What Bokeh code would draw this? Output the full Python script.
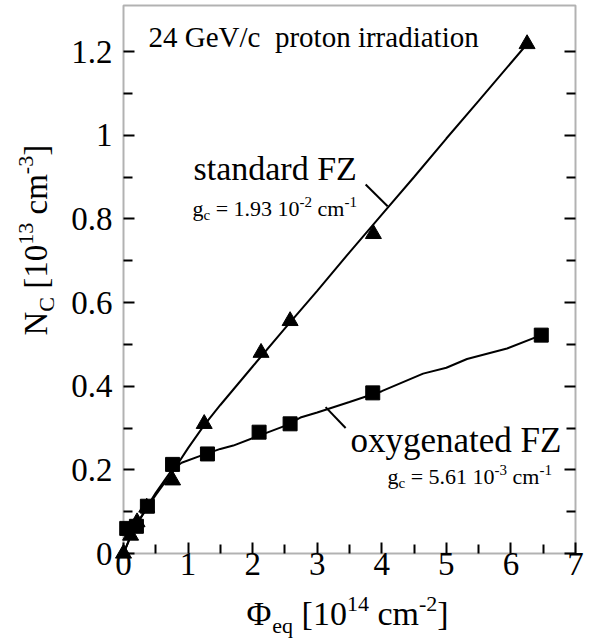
from math import pi
from bokeh.plotting import figure
from bokeh.models import Range1d, LinearAxis, FixedTicker, CustomJSTickFormatter, Label, BoxAnnotation
from bokeh.embed import file_html
from bokeh.resources import INLINE

# ---------------- data ----------------
std_x = [0.0, 0.11, 0.21, 0.36, 0.76, 1.25, 2.13, 2.58, 3.87, 6.25]
std_y = [0.0, 0.043, 0.075, 0.11, 0.175, 0.31, 0.48, 0.556, 0.764, 1.218]

oxy_x = [0.05, 0.2, 0.37, 0.76, 1.3, 2.1, 2.58, 3.86, 6.47]
oxy_y = [0.06, 0.065, 0.113, 0.213, 0.238, 0.29, 0.31, 0.384, 0.522]

std_fit_x = [0, 0.1, 0.2, 0.35, 0.5, 0.75, 1.0, 1.25, 1.5, 2.0, 2.5, 3.0, 3.5, 4.0, 4.5, 5.0, 5.5, 6.25]
std_fit_y = [0, 0.037, 0.068, 0.105, 0.14, 0.193, 0.252, 0.307, 0.355, 0.447, 0.538, 0.628, 0.72, 0.81, 0.9, 0.992, 1.082, 1.218]

oxy_fit_x = [0, 0.1, 0.2, 0.35, 0.5, 0.75, 0.9, 1.2, 1.5, 1.7, 2.07, 2.5, 2.74, 3.0, 3.5, 4.0, 4.64, 5.0, 5.32, 5.94, 6.47]
oxy_fit_y = [0, 0.038, 0.068, 0.108, 0.145, 0.2, 0.217, 0.234, 0.25, 0.258, 0.28, 0.305, 0.325, 0.337, 0.362, 0.388, 0.43, 0.444, 0.465, 0.49, 0.522]

std_leader_x = [3.75, 4.09]
std_leader_y = [0.882, 0.83]
oxy_leader_x = [3.13, 3.44]
oxy_leader_y = [0.350, 0.300]

x_ticks = [0, 1, 2, 3, 4, 5, 6, 7]
x_tick_labels = ["0", "1", "2", "3", "4", "5", "6", "7"]
x_minor = [0.5, 1.5, 2.5, 3.5, 4.5, 5.5, 6.5]
y_ticks = [0.0, 0.2, 0.4, 0.6, 0.8, 1.0, 1.2]
y_tick_labels = ["0", "0.2", "0.4", "0.6", "0.8", "1", "1.2"]
y_minor = [0.1, 0.3, 0.5, 0.7, 0.9, 1.1]

X_MAX = 7.0
Y_MAX = 1.31

# ---------------- layout geometry ----------------
# The plotting box [0, X_MAX] x [0, Y_MAX] sits at these pixel edges; the frame
# covers the whole canvas so that the axis titles (built from pieces) are not clipped.
W, H = 589, 639
FL, FR, FT, FB = 123, 575, 5, 553
FONT = "Liberation Serif"

sx_per = (FR - FL) / X_MAX
sy_per = (FB - FT) / Y_MAX
x0, x1 = -FL / sx_per, X_MAX + (W - FR) / sx_per
y0, y1 = -(H - FB) / sy_per, Y_MAX + FT / sy_per

p = figure(width=W, height=H, x_range=Range1d(x0, x1), y_range=Range1d(y0, y1),
           output_backend="svg", toolbar_location=None,
           min_border_left=0, min_border_right=0, min_border_top=0, min_border_bottom=0)
p.background_fill_color = "white"
p.border_fill_color = "white"
p.outline_line_color = None
p.xgrid.visible = False
p.ygrid.visible = False


def fmt(tvals, tlabels):
    return CustomJSTickFormatter(args=dict(tv=tvals, tl=tlabels),
                                 code="const i = tv.findIndex(t => Math.abs(t - tick) < 1e-9); return i >= 0 ? tl[i] : '';")


def style_axis(ax):
    ax.axis_line_color = None
    ax.major_tick_in = 11
    ax.major_tick_out = 0
    ax.minor_tick_in = 9
    ax.minor_tick_out = 0
    ax.major_tick_line_width = 2
    ax.minor_tick_line_width = 2
    ax.major_tick_line_color = "black"
    ax.minor_tick_line_color = "black"
    ax.major_label_text_font = FONT
    ax.major_label_text_font_style = "normal"
    ax.major_label_text_color = "black"
    ax.major_label_text_font_size = "33px"


xax = p.xaxis[0]
xax.fixed_location = 0
xax.ticker = FixedTicker(ticks=x_ticks, minor_ticks=x_minor)
xax.formatter = fmt(x_ticks, x_tick_labels)
style_axis(xax)
xax.major_label_standoff = -1

yax = p.yaxis[0]
yax.fixed_location = 0
yax.ticker = FixedTicker(ticks=y_ticks, minor_ticks=y_minor)
yax.formatter = fmt(y_ticks, y_tick_labels)
style_axis(yax)
yax.major_label_standoff = 11

rax = LinearAxis(fixed_location=X_MAX, ticker=FixedTicker(ticks=y_ticks, minor_ticks=y_minor),
                 formatter=CustomJSTickFormatter(code="return '';"))
style_axis(rax)
p.add_layout(rax, "right")

# frame box
p.add_layout(BoxAnnotation(left=0, right=X_MAX, bottom=0, top=Y_MAX, fill_alpha=0,
                           line_color="black", line_width=2, level="overlay"))

# ---------------- glyphs ----------------
p.line(std_fit_x, std_fit_y, line_color="black", line_width=2)
p.line(oxy_fit_x, oxy_fit_y, line_color="black", line_width=2)
p.line(std_leader_x, std_leader_y, line_color="black", line_width=2)
p.line(oxy_leader_x, oxy_leader_y, line_color="black", line_width=2)
p.scatter(std_x, std_y, marker="triangle", size=16, fill_color="black", line_color="black")
p.scatter(oxy_x, oxy_y, marker="square", size=14, fill_color="black", line_color="black")

# ---------------- rich text helpers ----------------
EM = {' ': 0.25, '-': 0.333, '.': 0.25, '/': 0.278, '=': 0.564, '[': 0.333, ']': 0.333,
      'a': 0.444, 'b': 0.5, 'c': 0.444, 'd': 0.5, 'e': 0.444, 'f': 0.333, 'g': 0.5, 'h': 0.5,
      'i': 0.278, 'j': 0.278, 'k': 0.5, 'l': 0.278, 'm': 0.778, 'n': 0.5, 'o': 0.5, 'p': 0.5,
      'q': 0.5, 'r': 0.333, 's': 0.389, 't': 0.278, 'u': 0.5, 'v': 0.5, 'w': 0.722, 'x': 0.5,
      'y': 0.5, 'z': 0.444, 'C': 0.667, 'F': 0.556, 'G': 0.722, 'N': 0.722, 'V': 0.722,
      'Z': 0.611, '\u03a6': 0.76}
BASE_FIX = 0.36   # Label "alphabetic" anchor sits this fraction of the size above the drawn baseline


def tw(s, size):
    return sum(EM.get(c, 0.5) for c in s) * size


def px2x(px):
    return (px - FL) / sx_per


def px2y(py):
    return (FB - py) / sy_per


def rich(pieces, px0, py0, rotated=False):
    """pieces: (text, size_px, baseline shift up in px)."""
    adv = 0.0
    for text, size, dy in pieces:
        stripped = text.lstrip(" ")
        adv += tw(text[:len(text) - len(stripped)], size)
        text = stripped
        if rotated:
            sx, sy = px0 - dy - BASE_FIX * size, py0 - adv
        else:
            sx, sy = px0 + adv, py0 - dy - BASE_FIX * size
        p.add_layout(Label(x=px2x(sx), y=px2y(sy), text=text, text_font=FONT,
                           text_font_size=f"{size}px", text_color="black",
                           text_align="left", text_baseline="alphabetic",
                           angle=(pi / 2 if rotated else 0)))
        adv += tw(text, size)


# title
rich([("24 GeV/c", 29, 0), ("  proton irradiation", 29, 0)], 148, 47)
# standard FZ
rich([("standard FZ", 34, 0)], 193, 180)
rich([("g", 22, 0), ("c", 15, -4), (" = 1.93 10", 22, 0), ("-2", 15, 9), (" cm", 22, 0), ("-1", 15, 9)], 192, 216)
# oxygenated FZ
rich([("oxygenated FZ", 35, 0)], 350, 453)
rich([("g", 22, 0), ("c", 15, -4), (" = 5.61 10", 22, 0), ("-3", 15, 9), (" cm", 22, 0), ("-1", 15, 9)], 387, 484)
# x axis label
rich([("\u03a6", 34, 0), ("eq", 22, -8), (" [10", 34, 0), ("14", 22, 14), (" cm", 34, 0), ("-2", 22, 14), ("]", 34, 0)], 246, 625)
# y axis label (rotated)
rich([("N", 33, 0), ("C", 22, -7), (" [10", 33, 0), ("13", 22, 14), (" cm", 33, 0), ("-3", 22, 14), ("]", 33, 0)], 47, 335, rotated=True)

open("out.html", "w").write(file_html(p, INLINE))
